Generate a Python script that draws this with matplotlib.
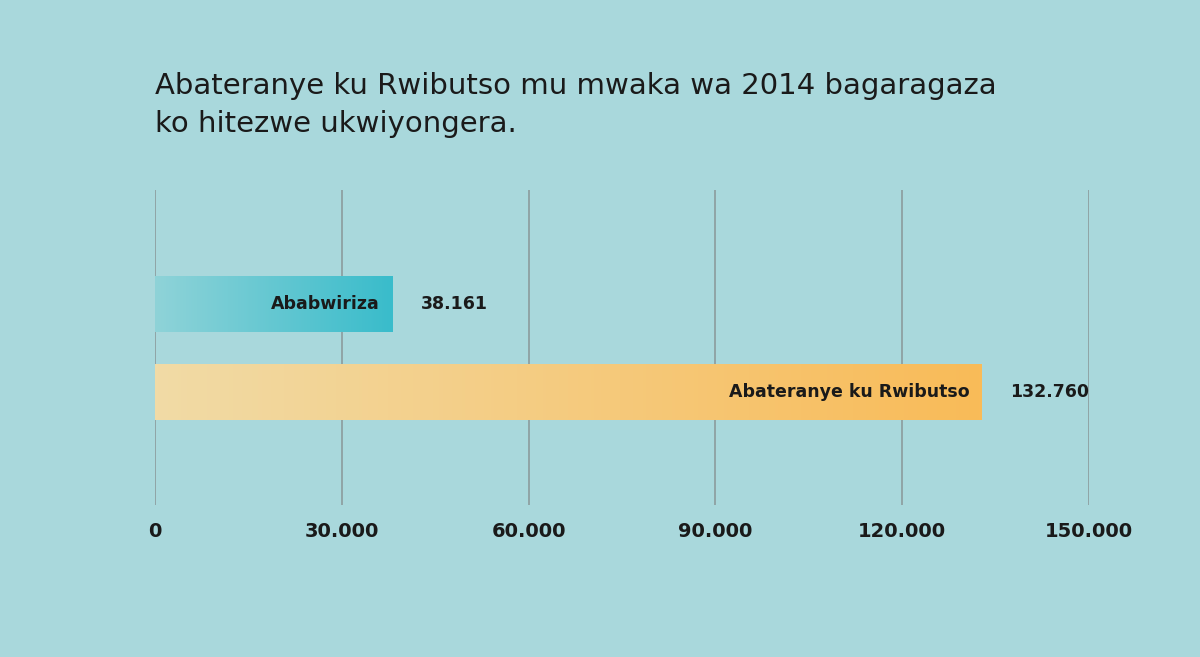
import numpy as np
import matplotlib
matplotlib.use("Agg")
import matplotlib.pyplot as plt
from matplotlib.colors import LinearSegmentedColormap

# data
categories = ["Ababwiriza", "Abateranye ku Rwibutso"]
values = [38161, 132760]
value_labels = ["38.161", "132.760"]
ticks = [0, 30000, 60000, 90000, 120000, 150000]
tick_labels = ["0", "30.000", "60.000", "90.000", "120.000", "150.000"]

BG = "#a9d8dc"
bar_cmaps = [
    LinearSegmentedColormap.from_list("teal", ["#8fd3d8", "#39bccb"]),
    LinearSegmentedColormap.from_list("gold", ["#f1dba6", "#f9bb58"]),
]
bar_pos = [114, 202]
bar_h = 56

fig = plt.figure(figsize=(12, 6.57), dpi=100, facecolor=BG)
ax = fig.add_axes([155 / 1200, 1 - 505 / 657, 934 / 1200, 315 / 657])
ax.set_facecolor("none")

for t in ticks:
    ax.axvline(t, color="#8c9b9d", lw=1.2, zorder=1)

grad = np.linspace(0, 1, 256).reshape(1, -1)
for v, y, cm, name, lab in zip(values, bar_pos, bar_cmaps, categories, value_labels):
    ax.imshow(grad, cmap=cm, aspect="auto", zorder=2,
              extent=(0, v, y + bar_h / 2, y - bar_h / 2))
    ax.text(v - 2000, y, name, ha="right", va="center", fontsize=12.5,
            fontweight="bold", color="#1a1a1a", zorder=3)
    ax.text(v + 4500, y, lab, ha="left", va="center", fontsize=12.5,
            fontweight="bold", color="#1a1a1a", zorder=3)
ax.set_xlim(0, 150000)
ax.set_ylim(315, 0)

ax.set_xticks(ticks)
ax.set_xticklabels(tick_labels, fontsize=14, fontweight="bold", color="#1a1a1a")
ax.tick_params(axis="x", length=0, pad=12)
ax.set_yticks([])
for s in ax.spines.values():
    s.set_visible(False)

fig.text(155 / 1200, 1 - 72 / 657,
         "Abateranye ku Rwibutso mu mwaka wa 2014 bagaragaza\nko hitezwe ukwiyongera.",
         ha="left", va="top", fontsize=21, color="#1a1a1a", linespacing=1.45)

fig.savefig("out.png", dpi=100, facecolor=BG)
